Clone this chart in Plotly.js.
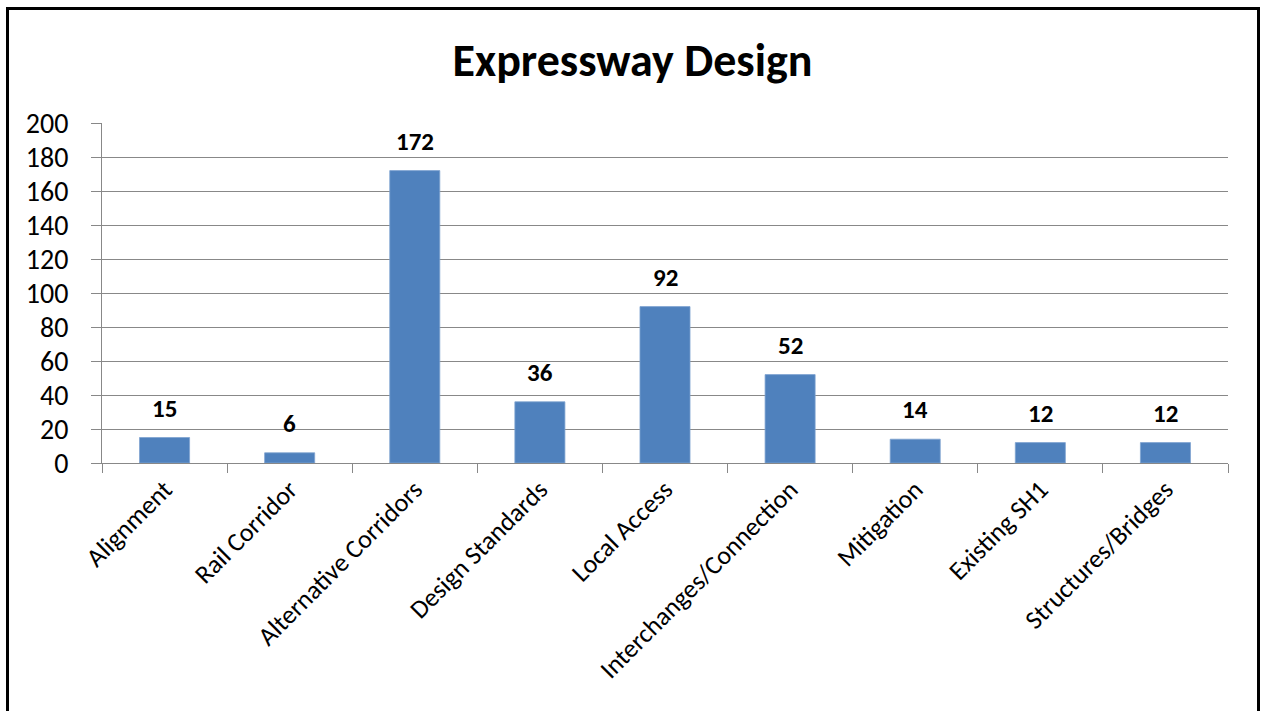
<!DOCTYPE html>
<html>
<head>
<meta charset="utf-8">
<script src="https://cdn.plot.ly/plotly-3.0.1.min.js"></script>
<style>
  html, body { margin: 0; padding: 0; background: #fff; }
  #wrap { position: relative; width: 1265px; height: 711px; overflow: hidden; }
  #chart { position: absolute; left: 0; top: 0; width: 1265px; height: 711px; }
  #frame { position: absolute; left: 6px; top: 7px; width: 1248px; height: 720px;
           border: 3px solid #000; pointer-events: none; }
</style>
</head>
<body>
<div id="wrap">
  <div id="chart"></div>
  <div id="frame"></div>
</div>
<script>
const categories = ["Alignment", "Rail Corridor", "Alternative Corridors", "Design Standards",
  "Local Access", "Interchanges/Connection", "Mitigation", "Existing SH1", "Structures/Bridges"];
const values = [15, 6, 172, 36, 92, 52, 14, 12, 12];
const yTicks = [0, 20, 40, 60, 80, 100, 120, 140, 160, 180, 200];
const chartTitle = "Expressway Design";

const FONT = "Carlito, Lato, 'Open Sans', sans-serif";

const trace = {
  type: "bar",
  x: categories,
  y: values,
  marker: { color: "#4F81BD", line: { color: "#7FA3D1", width: 0.8 } },
  hoverinfo: "x+y"
};

const annotations = categories.map((c, i) => ({
  x: c, y: values[i], xref: "x", yref: "y",
  text: "<b>" + values[i] + "</b>",
  showarrow: false, yanchor: "bottom", yshift: 12,
  font: { family: FONT, size: 25, color: "#000" }
}));

const layout = {
  width: 1265, height: 711,
  margin: { l: 102, r: 37, t: 123, b: 248 },
  paper_bgcolor: "#fff", plot_bgcolor: "#fff",
  showlegend: false,
  bargap: 0.6,
  title: { text: "<b>" + chartTitle + "</b>", x: 0.5, xanchor: "center",
           y: 1 - 60 / 711, yanchor: "middle",
           font: { family: FONT, size: 46, color: "#000" } },
  xaxis: {
    type: "category",
    tickangle: -45,
    tickson: "boundaries",
    ticks: "outside", ticklen: 9, tickcolor: "#888", tickwidth: 1,
    showline: true, linecolor: "#888", linewidth: 1,
    showgrid: false,
    tickfont: { family: FONT, size: 26, color: "#000" }
  },
  yaxis: {
    range: [0, 200],
    tickvals: yTicks,
    ticktext: yTicks.map(String),
    ticks: "outside", ticklen: 10, tickcolor: "#888", tickwidth: 1,
    ticklabelstandoff: 17,
    showline: true, linecolor: "#888", linewidth: 1,
    showgrid: true, gridcolor: "#888", gridwidth: 1,
    zeroline: false,
    tickfont: { family: FONT, size: 28, color: "#000" }
  },
  annotations: annotations
};

Plotly.newPlot("chart", [trace], layout, { displayModeBar: false, staticPlot: true });
</script>
</body>
</html>
